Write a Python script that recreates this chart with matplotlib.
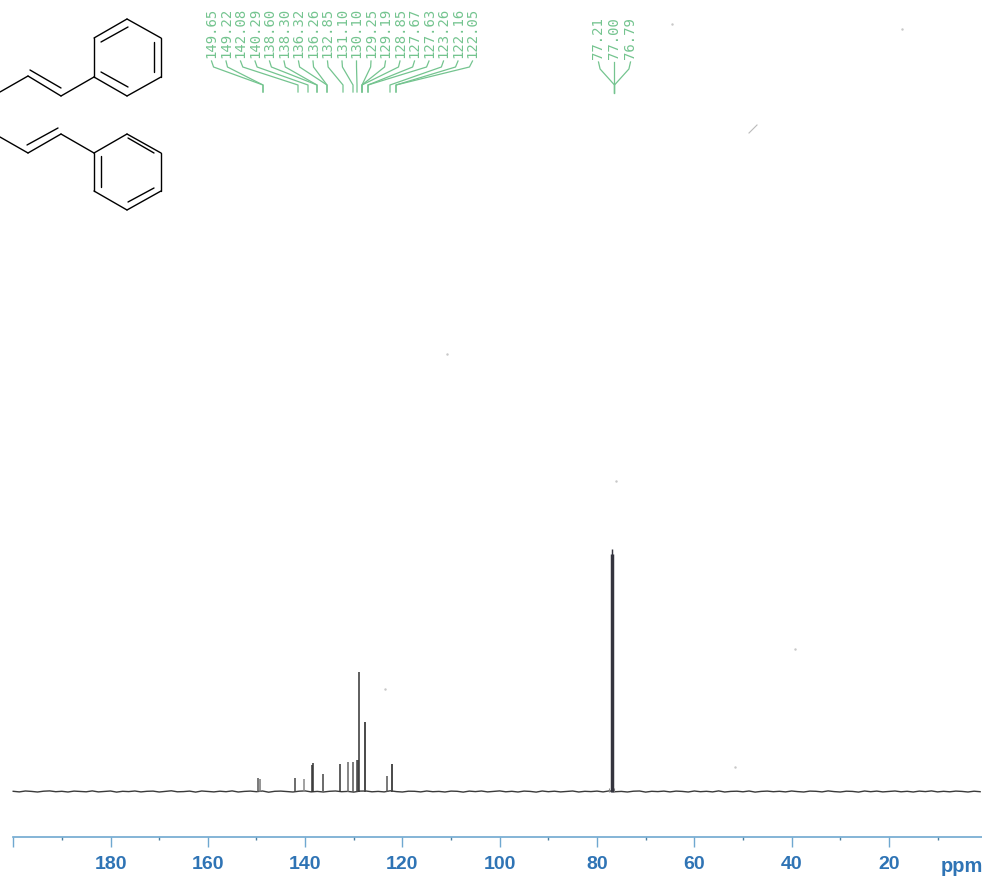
import numpy as np
import matplotlib
matplotlib.use("Agg")
import matplotlib.pyplot as plt
from matplotlib.ticker import FixedLocator, FixedFormatter

# ---- data ----
peak_ppm = [149.65, 149.22, 142.08, 140.29, 138.60, 138.30, 136.32, 136.26, 132.85, 131.10,
            130.10, 129.25, 129.19, 128.85, 127.67, 127.63, 123.26, 122.16, 122.05]
peak_height = [14, 13, 14, 13, 27, 29, 18, 18, 28, 30,
               30, 32, 32, 120, 70, 70, 16, 28, 28]
peak_shade = ['#555555', '#777777', '#444444', '#888888', '#333333', '#333333', '#666666', '#666666', '#333333', '#666666',
              '#555555', '#444444', '#444444', '#333333', '#444444', '#444444', '#555555', '#444444', '#444444']
solvent_ppm = [77.21, 77.00, 76.79]
solvent_height = [238, 243, 238]
foot_ppm = [77.55, 76.45]
foot_height = [4, 4]
peak_labels = ['149.65', '149.22', '142.08', '140.29', '138.60', '138.30', '136.32', '136.26', '132.85', '131.10',
               '130.10', '129.25', '129.19', '128.85', '127.67', '127.63', '123.26', '122.16', '122.05']
solvent_labels = ['77.21', '77.00', '76.79']
# baseline wiggle, read about every 1.25 ppm from 200 ppm down to the right edge
base_offset = [0.2, -0.4, 0.5, 0.1, -0.5, 0.3, 0.6, -0.2, 0.2, -0.5, 0.4, 0.1, -0.3, 0.6, -0.4, 0.1,
               0.5, -0.6, 0.2, -0.1, 0.5, -0.4, 0.2, 0.4, -0.5, 0.1, 0.7, -0.3, -0.1, 0.4, -0.6, 0.5,
               0.1, -0.4, 0.3, -0.2, 0.6, -0.5, 0.1, 0.4, -0.2, 0.5, -0.7, 0.2, 0.4, -0.1, -0.5, 0.3,
               0.6, -0.4, 0.1, -0.5, 0.2, 0.5, -0.2, 0.1, -0.6, 0.4, 0.5, -0.3, 0.1, -0.4, 0.7, -0.1,
               -0.5, 0.3, 0.2, -0.4, 0.5, -0.2, 0.1, -0.5, 0.4, 0.2, -0.6, 0.4, -0.1, 0.5, -0.4, 0.1,
               0.6, -0.3, 0.2, -0.5, 0.4, 0.1, -0.6, 0.5, -0.2, 0.3, -0.4, 0.1, 0.5, -0.5, 0.2, -0.1,
               0.4, -0.4, 0.6, -0.2, 0.1, -0.5, 0.3, 0.5, -0.6, 0.2, -0.1, 0.4, -0.4, 0.4, 0.1, -0.5,
               0.5, -0.2, 0.2, -0.4, 0.6, -0.5, 0.1, 0.3, -0.3, 0.5, -0.6, 0.1, 0.4, -0.2, 0.2, -0.4,
               0.5, -0.1, -0.5, 0.4, 0.2, -0.4, 0.6, -0.1, -0.5, 0.3, 0.1, -0.6, 0.5, -0.2, 0.4, -0.4,
               0.1, 0.5, -0.3, 0.2, -0.5, 0.4, -0.1, 0.6, -0.4, 0.2, -0.3, 0.4, 0.1, -0.5, 0.3, -0.2]
major_ticks = [200, 180, 160, 140, 120, 100, 80, 60, 40, 20]
major_labels = ['', '180', '160', '140', '120', '100', '80', '60', '40', '20']
minor_ticks = [190, 170, 150, 130, 110, 90, 70, 50, 30, 10]

W, H = 982, 879
PX_PER_PPM = 4.865
X180 = 110.5
BASE_Y = 792.5
AXIS_Y = 837.5
BLUE_LINE = '#6fa8d0'
BLUE_TEXT = '#2f74b5'
GREEN = '#74c48f'

fig = plt.figure(figsize=(W / 100, H / 100), dpi=100, facecolor='white')
ax = fig.add_axes([0, 0, 1, 1], facecolor='none')
xmin, xmax = 180 + X180 / PX_PER_PPM, 180 - (W - X180) / PX_PER_PPM
ax.set_xlim(xmin, xmax)
ax.set_ylim(BASE_Y - H, BASE_Y)

base_ppm = 200 - 1.25 * np.arange(len(base_offset))
ax.plot(base_ppm, base_offset, color='#3a3a3a', lw=1.0, zorder=2)
ax.vlines(peak_ppm, 0, peak_height, colors=peak_shade, lw=1.1, zorder=3)
ax.vlines(foot_ppm, 0, foot_height, colors='#888888', lw=0.8, zorder=3)
ax.vlines(solvent_ppm, 0, solvent_height, colors='#34343e', lw=1.05, zorder=3)

for s in ['top', 'left', 'right']:
    ax.spines[s].set_visible(False)
ax.spines['bottom'].set_position(('data', BASE_Y - AXIS_Y))
ax.spines['bottom'].set_bounds(200, xmax)
ax.spines['bottom'].set_color(BLUE_LINE)
ax.spines['bottom'].set_linewidth(1.2)
ax.yaxis.set_visible(False)
ax.xaxis.set_major_locator(FixedLocator(major_ticks))
ax.xaxis.set_major_formatter(FixedFormatter(major_labels))
ax.xaxis.set_minor_locator(FixedLocator(minor_ticks))
ax.tick_params(axis='x', which='major', direction='out', length=7.2, width=1.0, color=BLUE_LINE,
               pad=6.2, labelsize=14, labelcolor=BLUE_TEXT)
ax.tick_params(axis='x', which='minor', direction='out', length=2.4, width=1.0, color='#4a7f9f')
for lab in ax.get_xticklabels():
    lab.set_fontfamily('Liberation Sans')
    lab.set_fontweight('bold')

# overlay in pixel coordinates for the annotation artwork
ov = fig.add_axes([0, 0, 1, 1], facecolor='none')
ov.set_xlim(0, W)
ov.set_ylim(H, 0)
ov.axis('off')

ov.text(941, 867, 'ppm', family='Liberation Sans', fontweight='bold', fontsize=14.4,
        color=BLUE_TEXT, ha='left', va='center', clip_on=False)

# peak labels with connectors
conn_end = [263, 263, 298, 308, 317, 317, 327, 327, 343, 353, 357, 362, 362, 362, 368, 368, 390, 396, 396]
for i, t in enumerate(peak_labels):
    lx = 211.5 + i * 14.5
    ov.text(lx, 58, t, rotation=90, family='DejaVu Sans Mono', fontsize=10, color=GREEN,
            ha='center', va='bottom')
    e = conn_end[i]
    ov.plot([lx, lx + (e - lx) * 0.04, e, e], [62, 68, 86, 93], color=GREEN, lw=0.9)
for lx, t in zip([598.5, 614.5, 630.5], solvent_labels):
    ov.text(lx, 59, t, rotation=90, family='DejaVu Sans Mono', fontsize=10, color=GREEN,
            ha='center', va='bottom')
    ov.plot([lx, lx + (614.5 - lx) * 0.1, 614.5, 614.5], [63, 70, 86, 94], color=GREEN, lw=0.9)

# molecule sketch
def mol(segments):
    for x0, y0, x1, y1 in segments:
        ov.plot([x0, x1], [y0, y1], color='black', lw=1.0, solid_capstyle='round')

mol([(127, 20, 161, 39), (161, 39, 161, 78), (161, 78, 127, 97), (127, 97, 94, 78), (94, 78, 94, 39), (94, 39, 127, 20),
     (101, 43, 128, 28), (154, 43, 154, 73), (101, 73, 128, 88),
     (94, 78, 61, 97), (61, 97, 28, 77), (28, 77, 0, 93), (30, 71, 61, 89)])
mol([(127, 135, 161, 154), (161, 154, 161, 192), (161, 192, 127, 211), (127, 211, 94, 192), (94, 192, 94, 154), (94, 154, 127, 135),
     (101, 157, 101, 188), (128, 139, 154, 154), (128, 203, 154, 189),
     (94, 154, 61, 135), (61, 135, 28, 154), (28, 154, 0, 138), (27, 146, 58, 129)])

# faint scan specks
ov.plot([749, 757], [134, 126], color='#bbbbbb', lw=0.8)
for sx, sy in [(902, 30), (672, 25), (795, 650), (385, 690), (616, 482), (735, 768), (447, 355)]:
    ov.plot([sx], [sy], '.', ms=1.5, color='#c8c8c8')

fig.savefig('out.png', dpi=100, facecolor='white')
